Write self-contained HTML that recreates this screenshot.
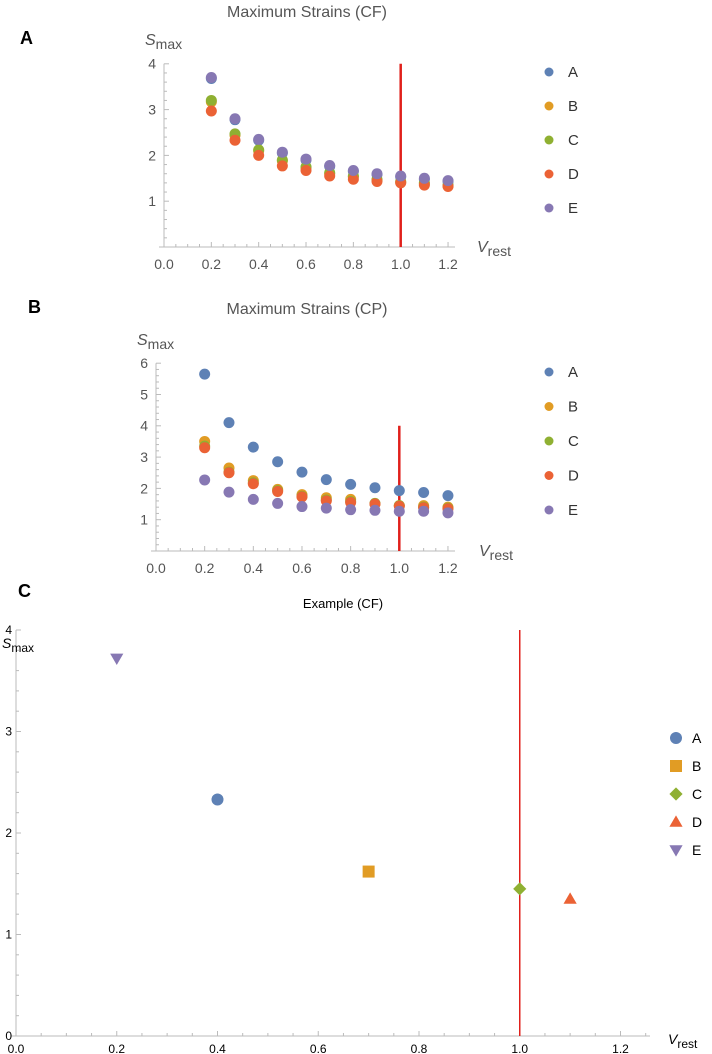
<!DOCTYPE html>
<html><head><meta charset="utf-8">
<style>
body{margin:0;background:#fff;width:712px;height:1054px;overflow:hidden;font-family:"Liberation Sans",Arial,sans-serif}
svg{position:absolute;left:0;top:0}
</style></head>
<body>
<svg id="fig" width="712" height="1054" xmlns="http://www.w3.org/2000/svg">
<text x="20" y="44" font-size="18" font-weight="bold">A</text>
<text x="28" y="313" font-size="18" font-weight="bold">B</text>
<text x="18" y="597" font-size="18" font-weight="bold">C</text>
<text x="307" y="17" font-size="16" fill="#555" text-anchor="middle">Maximum Strains (CF)</text>
<text x="307" y="314" font-size="16" fill="#555" text-anchor="middle">Maximum Strains (CP)</text>
<text x="343" y="608" font-size="13" fill="#000" text-anchor="middle">Example (CF)</text>
</svg>
<script>
const xs=[0.2,0.3,0.4,0.5,0.6,0.7,0.8,0.9,1.0,1.1,1.2];
const names=["A","B","C","D","E"];
const colors=["#5e81b5","#e19c24","#8fb032","#eb6235","#8778b3"];
const cfA=[3.68,2.78,2.33,2.05,1.9,1.76,1.65,1.58,1.53,1.48,1.43];
const cfB=[3.17,2.44,2.1,1.88,1.73,1.6,1.53,1.46,1.41,1.38,1.33];
const cfC=[3.2,2.47,2.12,1.9,1.75,1.62,1.55,1.48,1.43,1.4,1.35];
const cfD=[2.97,2.33,2.0,1.77,1.67,1.55,1.48,1.43,1.4,1.35,1.32];
const cfE=[3.7,2.8,2.35,2.07,1.92,1.78,1.67,1.6,1.55,1.5,1.45];
const cpA=[5.65,4.1,3.32,2.85,2.52,2.28,2.13,2.02,1.93,1.87,1.77];
const cpB=[3.5,2.65,2.25,1.97,1.8,1.7,1.65,1.5,1.45,1.45,1.4];
const cpC=[3.35,2.52,2.18,1.93,1.75,1.63,1.58,1.52,1.45,1.4,1.37];
const cpD=[3.3,2.5,2.15,1.9,1.73,1.6,1.55,1.5,1.43,1.38,1.35];
const cpE=[2.27,1.88,1.65,1.52,1.42,1.37,1.32,1.3,1.27,1.27,1.22];
const exX=[0.4,0.7,1.0,1.1,0.2];
const exY=[2.33,1.62,1.45,1.35,3.72];
const xTicks=[0,0.2,0.4,0.6,0.8,1.0,1.2];
const cTicksY=[0,1,2,3,4];
const NS="http://www.w3.org/2000/svg";
const svg=document.getElementById('fig');
function mk(tag,attrs,parent){const e=document.createElementNS(NS,tag);for(const k in attrs)e.setAttribute(k,attrs[k]);(parent||svg).appendChild(e);return e;}
function txt(x,y,s,size,fill,anchor){const t=mk('text',{x:x,y:y,'font-size':size,fill:fill,'text-anchor':anchor||'middle'});t.textContent=s;return t;}

function panel(cfg){
  const X=v=>cfg.x0+v*cfg.sx, Y=v=>cfg.y0-v*cfg.sy;
  const ax=mk('g',{});
  
  
  mk('line',{x1:cfg.x0-5,y1:cfg.y0,x2:cfg.xEnd,y2:cfg.y0,stroke:'#bbb'},ax);
  mk('line',{x1:cfg.x0,y1:cfg.y0,x2:cfg.x0,y2:Y(cfg.yMax),stroke:'#bbb'},ax);
  for(let v=0;v<=cfg.xMaxTick+1e-9;v+=0.05){const mj=Math.abs(v/0.2-Math.round(v/0.2))<1e-6;mk('line',{x1:X(v),y1:cfg.y0,x2:X(v),y2:cfg.y0-(mj?5:3),stroke:'#bbb'},ax);}
  for(let v=0;v<=cfg.yMax+1e-9;v+=0.2){const mj=Math.abs(v-Math.round(v))<1e-6;mk('line',{x1:cfg.x0,y1:Y(v),x2:cfg.x0+(mj?5:3),y2:Y(v),stroke:'#bbb'},ax);}
  xTicks.forEach(v=>{const t=txt(X(v)+(cfg.lblDx||0),cfg.y0+cfg.lblDy,v.toFixed(1),cfg.fs,cfg.lblc);});
  cfg.yTicks.forEach(v=>{const t=txt(cfg.x0-cfg.ylDx,Y(v)+cfg.fs*0.35,String(v),cfg.fs,cfg.lblc,'end');});
  const yl=txt(cfg.ylabX,cfg.ylabY,'',cfg.fs+2,cfg.lblc,'start');
  
  yl.innerHTML='<tspan font-style="italic">S</tspan><tspan font-size="'+(cfg.fs)+'" dy="4">max</tspan>';
  const xl=txt(cfg.xlabX,cfg.xlabY,'',cfg.fs+2,cfg.lblc,'start');
  
  xl.innerHTML='<tspan font-style="italic">V</tspan><tspan font-size="'+(cfg.fs)+'" dy="4">rest</tspan>';
  const rl=mk('line',{x1:X(1),y1:Y(cfg.redTop),x2:X(1),y2:cfg.y0,stroke:'#e0201b','stroke-width':cfg.rw});
  
  return {X,Y};
}
// Panel A
let a=panel({id:'panel-a',x0:164,y0:247,sx:236.7,sy:45.8,xEnd:455,xMaxTick:1.2,yMax:4,yTicks:[1,2,3,4],fs:14,lblc:'#555',lblDy:22,ylDx:8,ylabX:145,ylabY:45,xlabX:477,xlabY:252,redTop:4,rw:2.5});
[cfA,cfB,cfC,cfD,cfE].forEach((s,si)=>{s.forEach((v,i)=>{const c=mk('circle',{cx:a.X(xs[i]),cy:a.Y(v),r:5.5,fill:colors[si]});});});
// Panel B
let b=panel({id:'panel-b',x0:156,y0:551,sx:243.3,sy:31.3,xEnd:455,xMaxTick:1.2,yMax:6,yTicks:[1,2,3,4,5,6],fs:14,lblc:'#555',lblDy:22,ylDx:8,ylabX:137,ylabY:345,xlabX:479,xlabY:556,redTop:4,rw:2.5});
[cpA,cpB,cpC,cpD,cpE].forEach((s,si)=>{s.forEach((v,i)=>{const c=mk('circle',{cx:b.X(xs[i]),cy:b.Y(v),r:5.5,fill:colors[si]});});});
// legends A/B
function legend(y0,dy,id){names.forEach((n,i)=>{const c=mk('circle',{cx:549,cy:y0+i*dy,r:4.5,fill:colors[i]});const t=txt(568,y0+i*dy+5,n,15,'#333','start');});}
legend(72,34,'panel-a');legend(372,34.5,'panel-b');
// Panel C
let c=panel({id:'panel-c',x0:16,y0:1036,sx:503.75,sy:101.5,xEnd:650,xMaxTick:1.25,yMax:4,yTicks:cTicksY,fs:12,lblc:'#000',lblDy:17,ylDx:4,ylabX:2,ylabY:648,xlabX:668,xlabY:1044,redTop:4,rw:1.5});
function marker(k,x,y,s,col){
  if(k==0)return mk('circle',{cx:x,cy:y,r:s,fill:col});
  if(k==1)return mk('rect',{x:x-s,y:y-s,width:2*s,height:2*s,fill:col});
  if(k==2)return mk('polygon',{points:`${x},${y-s*1.1} ${x+s*1.1},${y} ${x},${y+s*1.1} ${x-s*1.1},${y}`,fill:col});
  if(k==3)return mk('polygon',{points:`${x},${y-s*1.1} ${x+s*1.1},${y+s*0.8} ${x-s*1.1},${y+s*0.8}`,fill:col});
  return mk('polygon',{points:`${x},${y+s*1.1} ${x+s*1.1},${y-s*0.8} ${x-s*1.1},${y-s*0.8}`,fill:col});
}
exX.forEach((v,i)=>{const m=marker(i,c.X(v),c.Y(exY[i]),6,colors[i]);});
names.forEach((n,i)=>{const m=marker(i,676,738+i*28,6,colors[i]);const t=txt(692,743+i*28,n,14,'#000','start');});
</script>
</body></html>
